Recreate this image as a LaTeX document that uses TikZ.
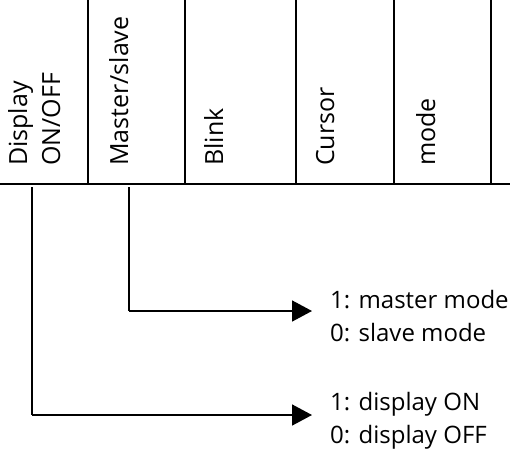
\documentclass[tikz,border=0pt]{standalone}
\usepackage{fontspec}
\setmainfont{Open Sans}
\usetikzlibrary{arrows.meta}
\begin{document}
\begin{tikzpicture}[x=1pt,y=-1pt,
  grid/.style={line width=2pt},
  field/.style={rotate=90,anchor=base west,inner sep=0pt,font=\fontsize{25}{30}\selectfont},
  value/.style={anchor=base west,inner sep=0pt,font=\fontsize{24}{29}\selectfont},
  link/.style={line width=1.6pt},
  pointer/.style={line width=1.6pt,-{Triangle[length=20pt,width=21pt]}}]
\useasboundingbox (0,0) rectangle (510,450);

% register row: base line and field dividers
\draw[grid] (0,184) -- (510,184);
\foreach \x in {88,185,296,394,491}
  \draw[grid] (\x,0) -- (\x,184);

% field names
\node[field] (f1a) at (27,166) {Display};
\node[field] (f1b) at (60,166) {ON/OFF};
\node[field] (f2) at (128,166) {Master/slave};
\node[field] (f3) at (223,166) {Blink};
\node[field] (f4) at (334,166) {Cursor};
\node[field] (f5) at (435,166) {mode};

% value descriptions
\node[value] (m1) at (330,308) {1: master mode};
\node[value] (m0) at (330,341) {0: slave mode};
\node[value] (d1) at (330,410) {1: display ON};
\node[value] (d0) at (330,443) {0: display OFF};

% connector end points
\coordinate (msTop) at (129,187);
\coordinate (msBend) at (129,311);
\coordinate (msTip) at (312,311);
\coordinate (dpTop) at (32,187);
\coordinate (dpBend) at (32,415);
\coordinate (dpTip) at (312,415);

\draw[link] (msTop) -- (msBend);
\draw[pointer] (msBend) -- (msTip);
\draw[link] (dpTop) -- (dpBend);
\draw[pointer] (dpBend) -- (dpTip);
\end{tikzpicture}
\end{document}
